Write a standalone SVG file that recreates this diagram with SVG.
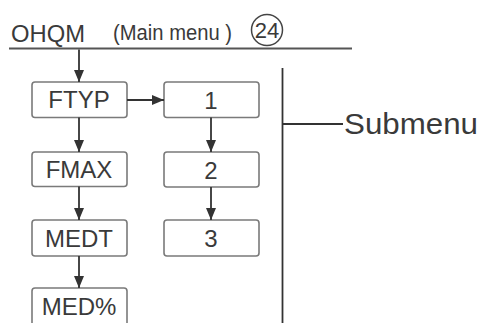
<svg xmlns="http://www.w3.org/2000/svg" width="480" height="323" viewBox="0 0 480 323">
<style>
text{font-family:"Liberation Sans",Arial,sans-serif;fill:#3a3a3a}
.box rect{fill:#fff;stroke:#7a7a7a;stroke-width:1.6}
.box text{font-size:24px;text-anchor:middle}
.con line{stroke:#333;stroke-width:1.8}
</style>
<defs>
<marker id="ah" viewBox="0 0 12 10" refX="12" refY="5" markerWidth="12" markerHeight="10" markerUnits="userSpaceOnUse" orient="auto">
<path d="M0,0 L12,5 L0,10 Z" fill="#333"/>
</marker>
</defs>
<g id="header">
<text x="11" y="41.5" font-size="24" textLength="74" lengthAdjust="spacingAndGlyphs">OHQM</text>
<text x="113" y="40" font-size="22" textLength="119" lengthAdjust="spacingAndGlyphs">(Main menu )</text>
<circle cx="267" cy="30" r="15.5" fill="none" stroke="#444" stroke-width="1.5"/>
<text x="267" y="38" font-size="22" text-anchor="middle">24</text>
<line x1="9" y1="48.5" x2="352" y2="48.5" stroke="#555" stroke-width="2"/>
</g>
<g id="FTYP" class="box"><rect x="32" y="82" width="95" height="35.5" rx="3"/><text x="79" y="108">FTYP</text></g>
<g id="FMAX" class="box"><rect x="32" y="152" width="95" height="34.5" rx="3"/><text x="79" y="178">FMAX</text></g>
<g id="MEDT" class="box"><rect x="32" y="220" width="95" height="36" rx="3"/><text x="79" y="247">MEDT</text></g>
<g id="MEDP" class="box"><rect x="32" y="288" width="95" height="40" rx="3"/><text x="79" y="315">MED%</text></g>
<g id="s1" class="box"><rect x="164" y="82" width="95" height="35.5" rx="3"/><text x="211" y="109">1</text></g>
<g id="s2" class="box"><rect x="164" y="152" width="95" height="35" rx="3"/><text x="211" y="179">2</text></g>
<g id="s3" class="box"><rect x="164" y="220" width="95" height="36" rx="3"/><text x="211" y="247">3</text></g>
<g id="submenu">
<line x1="282.5" y1="68" x2="282.5" y2="323" stroke="#333" stroke-width="1.8"/>
<line x1="282.5" y1="124" x2="343" y2="124" stroke="#333" stroke-width="1.8"/>
<text x="344" y="134" font-size="30" textLength="134" lengthAdjust="spacingAndGlyphs">Submenu</text>
</g>
<g class="con">
<line x1="79" y1="49.5" x2="79" y2="82" marker-end="url(#ah)"/>
<line x1="79" y1="117.5" x2="79" y2="152" marker-end="url(#ah)"/>
<line x1="79" y1="186.5" x2="79" y2="220" marker-end="url(#ah)"/>
<line x1="79" y1="256" x2="79" y2="288" marker-end="url(#ah)"/>
<line x1="127" y1="100" x2="164" y2="100" marker-end="url(#ah)"/>
<line x1="211" y1="117.5" x2="211" y2="152" marker-end="url(#ah)"/>
<line x1="211" y1="187" x2="211" y2="220" marker-end="url(#ah)"/>
</g>
</svg>
